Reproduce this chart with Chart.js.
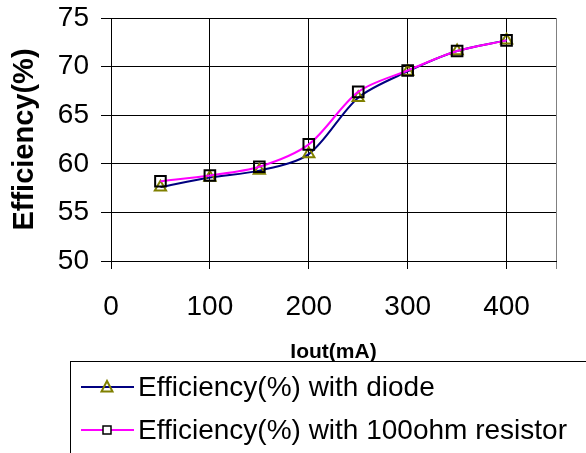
<!DOCTYPE html>
<html>
<head>
<meta charset="utf-8">
<script src="https://cdn.jsdelivr.net/npm/chart.js@4.4.1/dist/chart.umd.min.js"></script>
<style>
  html, body { margin: 0; padding: 0; background: #fff; overflow: hidden; }
  #wrap { position: relative; width: 586px; height: 453px; }
  #legend { position: absolute; left: 70px; top: 361px; width: 600px; height: 120px;
            border: 1px solid #000; box-sizing: border-box; font-family: 'Liberation Sans', Arial, sans-serif;
            font-size: 28px; color: #000; }
  .row { position: absolute; left: 0; height: 34px; line-height: 34px; white-space: nowrap; }
  .row svg { position: absolute; left: 10px; top: 0; }
  .row span { position: absolute; left: 67px; top: 0; }
</style>
</head>
<body>
<div id="wrap">
  <canvas id="c" width="586" height="453"></canvas>
  <div id="legend"></div>
</div>
<script>
const iout = [50, 100, 150, 200, 250, 300, 350, 400];
const diode = [57.6, 58.6, 59.3, 61.0, 66.8, 69.5, 71.6, 72.7];
const resistor = [58.2, 58.8, 59.7, 62.0, 67.4, 69.6, 71.6, 72.7];
const seriesNames = ['Efficiency(%) with diode', 'Efficiency(%) with 100ohm resistor'];
const xTitle = 'Iout(mA)';
const yTitle = 'Efficiency(%)';
const xTickValues = [0, 100, 200, 300, 400];
const yTickValues = [50, 55, 60, 65, 70, 75];

const FONT = "'Liberation Sans', Arial, sans-serif";

const toPts = (ys) => iout.map((x, i) => ({ x: x, y: ys[i] }));

new Chart(document.getElementById('c'), {
  type: 'line',
  data: {
    datasets: [
      {
        label: seriesNames[0], data: toPts(diode),
        borderColor: '#000080', borderWidth: 2, tension: 0.3,
        pointStyle: 'triangle', pointRadius: 6.5, pointBorderColor: '#808000',
        pointBackgroundColor: 'rgba(255,255,255,0)', pointBorderWidth: 2, order: 1
      },
      {
        label: seriesNames[1], data: toPts(resistor),
        borderColor: '#FF00FF', borderWidth: 2, tension: 0.3,
        pointStyle: 'rect', pointRadius: 7.5, pointBorderColor: '#000000',
        pointBackgroundColor: 'rgba(255,255,255,0)', pointBorderWidth: 2, order: 0
      }
    ]
  },
  options: {
    responsive: false, animation: false, devicePixelRatio: 1,
    layout: { padding: { left: 4, right: 30, top: 18, bottom: 86 } },
    plugins: { legend: { display: false }, tooltip: { enabled: false } },
    scales: {
      x: {
        type: 'linear', min: 0, max: 450,
        afterBuildTicks: (s) => { s.ticks = xTickValues.concat([450]).map(v => ({ value: v })); },
        afterFit: (s) => { s.height = 106; s.paddingLeft = 0; s.paddingRight = 0; },
        ticks: { font: { family: FONT, size: 28 }, color: '#000', padding: 21,
                 callback: (v) => xTickValues.includes(v) ? String(v) : '' , maxRotation: 0, autoSkip: false},
        grid: { color: (c) => c.tick && c.tick.value === 450 ? '#808080' : '#000', lineWidth: 1, tickLength: 8, drawTicks: true },
        border: { color: '#000', width: 1 },
        title: { display: true, text: xTitle, font: { family: FONT, size: 21, weight: 'bold' }, color: '#000', padding: { top: 4, bottom: 2 } }
      },
      y: {
        min: 50, max: 75,
        afterBuildTicks: (s) => { s.ticks = yTickValues.map(v => ({ value: v })); },
        afterFit: (s) => { s.width = 107; s.paddingTop = 0; s.paddingBottom = 0; },
        ticks: { font: { family: FONT, size: 28 }, color: '#000', padding: 12 },
        grid: { color: '#000', lineWidth: 1, tickLength: 10 },
        border: { color: '#000', width: 1 },
        title: { display: true, text: yTitle, font: { family: FONT, size: 29, weight: 'bold' }, color: '#000', padding: { top: 4, bottom: 4 } }
      }
    }
  }
});

// HTML legend
const legend = document.getElementById('legend');
const rowTops = [8, 51];
const samples = [
  '<svg width="54" height="34"><line x1="0" y1="17" x2="53" y2="17" stroke="#000080" stroke-width="2"/><polygon points="26,11 31.5,21.5 20.5,21.5" fill="none" stroke="#808000" stroke-width="2"/></svg>',
  '<svg width="54" height="34"><line x1="0" y1="17" x2="53" y2="17" stroke="#FF00FF" stroke-width="2"/><rect x="22" y="13" width="8" height="8" fill="#fff" stroke="#000" stroke-width="1.5"/></svg>'
];
seriesNames.forEach((n, i) => {
  const r = document.createElement('div');
  r.className = 'row';
  r.style.top = rowTops[i] + 'px';
  r.innerHTML = samples[i] + '<span></span>';
  r.querySelector('span').textContent = n;
  legend.appendChild(r);
});
</script>
</body>
</html>
